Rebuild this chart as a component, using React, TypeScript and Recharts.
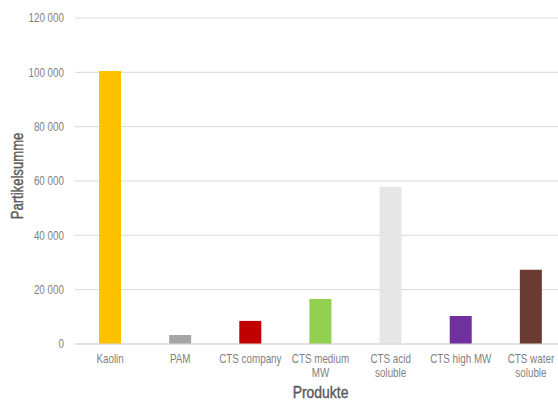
import React from "react";
import { BarChart, Bar, XAxis, YAxis, CartesianGrid, Cell } from "recharts";

const categories = [
  "Kaolin",
  "PAM",
  "CTS company",
  "CTS medium\nMW",
  "CTS acid\nsoluble",
  "CTS high MW",
  "CTS water\nsoluble",
];
const values = [100500, 3300, 8500, 16600, 57800, 10300, 27300];
const colors = ["#FFC000", "#A5A5A5", "#C00000", "#92D050", "#E7E6E6", "#7030A0", "#6A3B31"];
const yTicks = [0, 20000, 40000, 60000, 80000, 100000, 120000];

const xTitle = "Produkte";
const yTitle = "Partikelsumme";

const data = categories.map((name, i) => ({ name, value: values[i] }));

// Condensed look: regular sans squeezed horizontally
const FONT = "'Liberation Sans', Arial, sans-serif";
const SQUEEZE = 0.82;

const formatThousands = (v: number) =>
  String(v).replace(/\B(?=(\d{3})+(?!\d))/g, " ");

const CategoryTick = (props: any) => {
  const { x, y, payload } = props;
  const lines = String(payload.value).split("\n");
  return (
    <g transform={`translate(${x},${y}) scale(${SQUEEZE},1)`}>
      <text x={0} y={0} textAnchor="middle" fill="#7F7F7F" fontSize={12} fontFamily={FONT}>
        {lines.map((line, i) => (
          <tspan key={i} x={0} dy={i === 0 ? "0.71em" : 14}>
            {line}
          </tspan>
        ))}
      </text>
    </g>
  );
};

const ValueTick = (props: any) => {
  const { x, y, payload } = props;
  return (
    <g transform={`translate(${x},${y}) scale(${SQUEEZE},1)`}>
      <text x={0} y={0} dy="0.355em" textAnchor="end" fill="#7F7F7F" fontSize={12} fontFamily={FONT}>
        {formatThousands(payload.value)}
      </text>
    </g>
  );
};

const XTitle = (props: any) => {
  const { viewBox } = props;
  const cx = viewBox.x + viewBox.width / 2;
  return (
    <g transform={`translate(${cx},398) scale(${SQUEEZE},1)`}>
      <text
        x={0}
        y={0}
        textAnchor="middle"
        fill="#595959"
        stroke="#595959"
        strokeWidth={0.4}
        fontSize={17}
        fontFamily={FONT}
      >
        {xTitle}
      </text>
    </g>
  );
};

const YTitle = (props: any) => {
  const { viewBox } = props;
  const cy = viewBox.y + viewBox.height / 2 - 5;
  return (
    <g transform={`translate(23,${cy}) rotate(-90) scale(${SQUEEZE},1)`}>
      <text
        x={0}
        y={0}
        textAnchor="middle"
        fill="#595959"
        stroke="#595959"
        strokeWidth={0.4}
        fontSize={16}
        fontFamily={FONT}
      >
        {yTitle}
      </text>
    </g>
  );
};

export default function App() {
  return (
    <div style={{ position: "absolute", left: 0, top: 0, width: 558, height: 401, overflow: "hidden", background: "#fff" }}>
      <BarChart
        width={566}
        height={401}
        data={data}
        margin={{ top: 18, right: 0, bottom: 0, left: 0 }}
        barSize={22}
      >
        <CartesianGrid vertical={false} stroke="#D9D9D9" />
        <XAxis
          dataKey="name"
          axisLine={{ stroke: "#D9D9D9" }}
          tickLine={false}
          tickSize={0}
          tickMargin={10}
          height={57}
          interval={0}
          tick={<CategoryTick />}
          label={<XTitle />}
        />
        <YAxis
          domain={[0, 120000]}
          ticks={yTicks}
          width={75}
          axisLine={false}
          tickLine={false}
          tickSize={0}
          tickMargin={11}
          tick={<ValueTick />}
          label={<YTitle />}
        />
        <Bar dataKey="value" isAnimationActive={false}>
          {data.map((d, i) => (
            <Cell key={d.name} fill={colors[i]} />
          ))}
        </Bar>
      </BarChart>
    </div>
  );
}
